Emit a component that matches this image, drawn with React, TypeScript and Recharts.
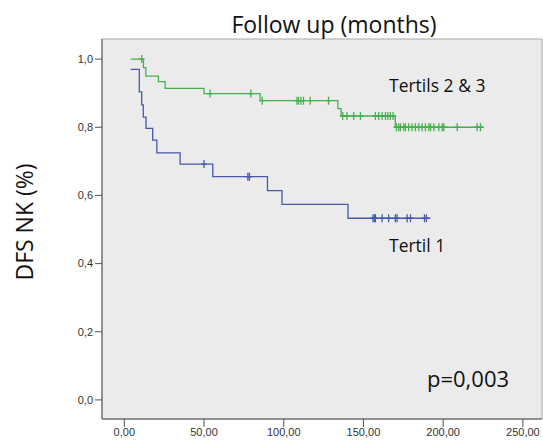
import { LineChart, Line, XAxis, YAxis, ReferenceArea } from 'recharts';

// [time (months), survival after the drop]
const tertil1Start: [number, number] = [4, 0.97];
const tertil1Events: [number, number][] = [
  [9.4, 0.904], [10.9, 0.866], [11.9, 0.83], [13.6, 0.797], [17.8, 0.762],
  [20.4, 0.725], [35, 0.692], [55.5, 0.655], [89.8, 0.614], [98.9, 0.574], [140.3, 0.533],
];
const tertil1Censored = [50, 77.5, 78.5, 156, 157, 157.5, 161.7, 165.8, 170, 171.1, 177.4, 179.5, 188.3, 189.5];
const tertil1End = 192;

const tertil23Start: [number, number] = [4, 1.0];
const tertil23Events: [number, number][] = [
  [12, 0.975], [13.5, 0.95], [21.4, 0.934], [25.6, 0.914], [50, 0.899],
  [85.2, 0.878], [134, 0.855], [136, 0.833], [170, 0.8],
];
const tertil23Censored = [
  10.9, 53.8, 79.4, 86.5, 108.3, 109.3, 110.8, 112.4, 116.6, 128.1, 137, 139.7, 143.9, 148.1,
  157.5, 159.6, 161.7, 163.8, 165.3, 166.9, 168.6, 170.7, 172.1, 173.2, 175.3, 176.3, 178.4,
  180.5, 182.6, 184.7, 186.8, 188.9, 191, 192.1, 194.2, 197.3, 199.4, 200.4, 208.8, 221.3, 223.4,
];
const tertil23End = 225.5;

const xTicks = [0, 50, 100, 150, 200, 250];
const yTicks = [0, 0.2, 0.4, 0.6, 0.8, 1.0];

type Pt = { t: number; s: number; c: boolean };

function buildCurve(start: [number, number], events: [number, number][], censored: number[], end: number): Pt[] {
  const levelAt = (t: number) => {
    let s = start[1];
    for (const [et, es] of events) if (et <= t) s = es;
    return s;
  };
  const pts: Pt[] = [{ t: start[0], s: start[1], c: false }];
  events.forEach(([t, s]) => pts.push({ t, s, c: false }));
  censored.forEach((t) => pts.push({ t, s: levelAt(t), c: true }));
  pts.push({ t: end, s: levelAt(end), c: false });
  return pts.sort((a, b) => a.t - b.t);
}

const tertil1 = buildCurve(tertil1Start, tertil1Events, tertil1Censored, tertil1End);
const tertil23 = buildCurve(tertil23Start, tertil23Events, tertil23Censored, tertil23End);

const GREEN = '#46b04f';
const BLUE = '#4759a8';

const censorDot = (color: string) => (props: any) => {
  const { cx, cy, payload, index } = props;
  if (!payload?.c) return <g key={index} />;
  return (
    <path
      key={index}
      d={`M${cx - 3},${cy}H${cx + 3}M${cx},${cy - 4}V${cy + 4}`}
      stroke={color}
      strokeWidth={1.3}
      fill="none"
    />
  );
};

const comma = (digits: number) => (v: number) => v.toFixed(digits).replace('.', ',');

const tickStyle = { fill: '#333', fontSize: 11, fontFamily: 'Liberation Sans, Arial, sans-serif' };

export default function App() {
  const labelFont = "'Open Sans', 'Noto Sans', sans-serif";
  return (
    <div style={{ position: 'absolute', left: 0, top: 0, width: 543, height: 441, background: '#fff' }}>
      <LineChart width={543} height={441} margin={{ top: 39, right: 1, bottom: 0, left: 0 }}>
        <XAxis
          type="number"
          dataKey="t"
          domain={[-14, 262]}
          ticks={xTicks}
          tickFormatter={comma(2)}
          allowDataOverflow
          height={22}
          tickSize={8}
          tickMargin={1}
          stroke="#555"
          tick={tickStyle}
        />
        <YAxis
          type="number"
          dataKey="s"
          domain={[-0.056, 1.059]}
          ticks={yTicks}
          tickFormatter={comma(1)}
          allowDataOverflow
          width={102}
          tickSize={7}
          tickMargin={2}
          stroke="#555"
          tick={tickStyle}
        />
        <ReferenceArea x1={-14} x2={262} y1={-0.056} y2={1.059} fill="#ebebeb" fillOpacity={1} stroke="#a8a8a8" />
        <Line
          data={tertil23}
          dataKey="s"
          type="stepAfter"
          stroke={GREEN}
          strokeWidth={1.3}
          dot={censorDot(GREEN)}
          activeDot={false}
          isAnimationActive={false}
        />
        <Line
          data={tertil1}
          dataKey="s"
          type="stepAfter"
          stroke={BLUE}
          strokeWidth={1.3}
          dot={censorDot(BLUE)}
          activeDot={false}
          isAnimationActive={false}
        />
      </LineChart>
      <svg
        width={543}
        height={441}
        style={{ position: 'absolute', left: 0, top: 0, pointerEvents: 'none' }}
        fontFamily={labelFont}
        fill="#111"
      >
        <text x={334} y={33} textAnchor="middle" fontSize={23}>Follow up (months)</text>
        <text x={33} y={222} textAnchor="middle" fontSize={23} transform="rotate(-90, 33, 222)">DFS NK (%)</text>
        <text x={389} y={92} fontSize={17.5}>Tertils 2 &amp; 3</text>
        <text x={389} y={252} fontSize={17.5}>Tertil 1</text>
        <text x={427} y={387} fontSize={22}>p=0,003</text>
      </svg>
    </div>
  );
}
